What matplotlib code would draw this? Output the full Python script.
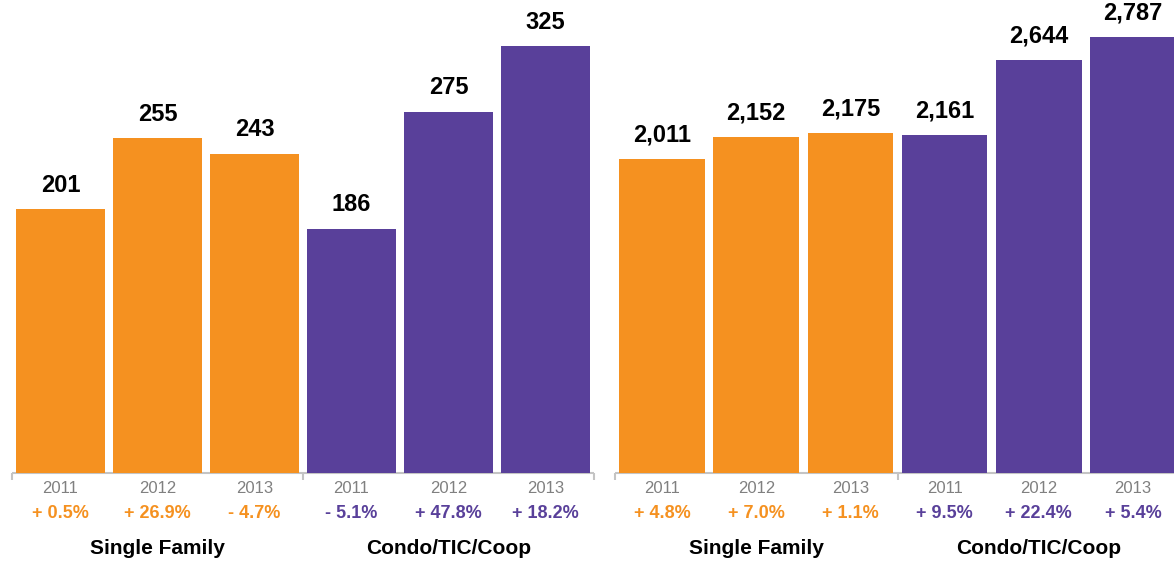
import matplotlib
matplotlib.use('Agg')
import matplotlib.pyplot as plt

# data
years = ['2011', '2012', '2013']
groups = ['Single Family', 'Condo/TIC/Coop']

left_single = [201, 255, 243]
left_condo = [186, 275, 325]
left_single_chg = ['+ 0.5%', '+ 26.9%', '- 4.7%']
left_condo_chg = ['- 5.1%', '+ 47.8%', '+ 18.2%']

right_single = [2011, 2152, 2175]
right_condo = [2161, 2644, 2787]
right_single_chg = ['+ 4.8%', '+ 7.0%', '+ 1.1%']
right_condo_chg = ['+ 9.5%', '+ 22.4%', '+ 5.4%']

ORANGE = '#f59120'
PURPLE = '#59409a'
AXIS_GREY = '#c4c4c4'
YEAR_GREY = '#808080'

plt.rcParams['font.family'] = ['Liberation Sans', 'DejaVu Sans']

W, H = 1174, 562
fig = plt.figure(figsize=(W / 100, H / 100), dpi=100)


def panel(rect, single, condo, single_chg, condo_chg, ytop, width):
    ax = fig.add_axes(rect)
    vals = single + condo
    colors = [ORANGE] * 3 + [PURPLE] * 3
    xs = list(range(6))
    ax.bar(xs, vals, width=width, color=colors, zorder=2)
    ax.set_xlim(-0.5, 5.5)
    ax.set_ylim(0, ytop)
    for s in ax.spines.values():
        s.set_visible(False)
    ax.set_xticks([])
    ax.set_yticks([])

    # base line with small ticks at group edges
    ax.plot([-0.5, 5.5], [0, 0], color=AXIS_GREY, lw=1.5, zorder=1,
            clip_on=False, solid_capstyle='butt')
    for xe in (-0.5, 2.5, 5.5):
        ax.plot([xe, xe], [0, -0.014 * ytop], color=AXIS_GREY, lw=1.5,
                clip_on=False, solid_capstyle='butt')

    chgs = single_chg + condo_chg
    for i, (x, v) in enumerate(zip(xs, vals)):
        ax.annotate(f'{v:,}', xy=(x, v), xytext=(0, 12.5), textcoords='offset points',
                    ha='center', va='baseline', fontsize=17, fontweight='bold',
                    color='black', annotation_clip=False)
        ax.annotate(years[i % 3], xy=(x, 0), xytext=(0, -11),
                    textcoords='offset points', ha='center', va='center',
                    fontsize=12, color=YEAR_GREY)
        ax.annotate(chgs[i], xy=(x, 0), xytext=(0, -29),
                    textcoords='offset points', ha='center', va='center',
                    fontsize=13, fontweight='bold', color=colors[i])
    for g, xc in zip(groups, (1, 4)):
        ax.annotate(g, xy=(xc, 0), xytext=(0, -54), textcoords='offset points',
                    ha='center', va='center', fontsize=15, fontweight='bold',
                    color='black')
    return ax


base = (H - 473) / H
top = 1.0
panel([12 / W, base, (594 - 12) / W, top - base],
      left_single, left_condo, left_single_chg, left_condo_chg, 360, 0.92)
panel([615 / W, base, (1180 - 615) / W, top - base],
      right_single, right_condo, right_single_chg, right_condo_chg, 3025, 0.91)

fig.savefig('out.png', dpi=100)
